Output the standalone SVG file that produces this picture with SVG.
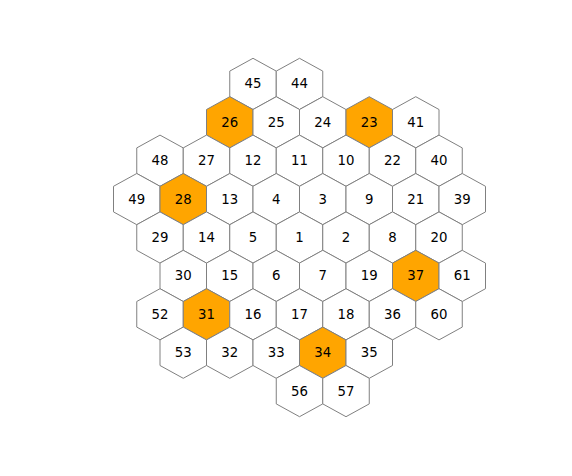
<svg xmlns="http://www.w3.org/2000/svg" xmlns:xlink="http://www.w3.org/1999/xlink" width="572" height="476" viewBox="0 0 572 476">
<style>
.h{fill:#ffffff;stroke:#808080;stroke-width:1}
.o .h{fill:#ffa500}
text{font-family:"DejaVu Sans",sans-serif;font-size:13.3px;fill:#000;text-anchor:middle;dominant-baseline:central}
</style>
<defs><polygon id="hex" points="0,-25.6 23.25,-12.8 23.25,12.8 0,25.6 -23.25,12.8 -23.25,-12.8"/></defs>
<rect width="572" height="476" fill="#fff"/>
<g id="n45" transform="translate(253,83.9)"><use href="#hex" class="h"/><text>45</text></g>
<g id="n44" transform="translate(299.5,83.9)"><use href="#hex" class="h"/><text>44</text></g>
<g id="n26" class="o" transform="translate(229.75,122.3)"><use href="#hex" class="h"/><text>26</text></g>
<g id="n25" transform="translate(276.25,122.3)"><use href="#hex" class="h"/><text>25</text></g>
<g id="n24" transform="translate(322.75,122.3)"><use href="#hex" class="h"/><text>24</text></g>
<g id="n23" class="o" transform="translate(369.25,122.3)"><use href="#hex" class="h"/><text>23</text></g>
<g id="n41" transform="translate(415.75,122.3)"><use href="#hex" class="h"/><text>41</text></g>
<g id="n48" transform="translate(160,160.7)"><use href="#hex" class="h"/><text>48</text></g>
<g id="n27" transform="translate(206.5,160.7)"><use href="#hex" class="h"/><text>27</text></g>
<g id="n12" transform="translate(253,160.7)"><use href="#hex" class="h"/><text>12</text></g>
<g id="n11" transform="translate(299.5,160.7)"><use href="#hex" class="h"/><text>11</text></g>
<g id="n10" transform="translate(346,160.7)"><use href="#hex" class="h"/><text>10</text></g>
<g id="n22" transform="translate(392.5,160.7)"><use href="#hex" class="h"/><text>22</text></g>
<g id="n40" transform="translate(439,160.7)"><use href="#hex" class="h"/><text>40</text></g>
<g id="n49" transform="translate(136.75,199.1)"><use href="#hex" class="h"/><text>49</text></g>
<g id="n28" class="o" transform="translate(183.25,199.1)"><use href="#hex" class="h"/><text>28</text></g>
<g id="n13" transform="translate(229.75,199.1)"><use href="#hex" class="h"/><text>13</text></g>
<g id="n4" transform="translate(276.25,199.1)"><use href="#hex" class="h"/><text>4</text></g>
<g id="n3" transform="translate(322.75,199.1)"><use href="#hex" class="h"/><text>3</text></g>
<g id="n9" transform="translate(369.25,199.1)"><use href="#hex" class="h"/><text>9</text></g>
<g id="n21" transform="translate(415.75,199.1)"><use href="#hex" class="h"/><text>21</text></g>
<g id="n39" transform="translate(462.25,199.1)"><use href="#hex" class="h"/><text>39</text></g>
<g id="n29" transform="translate(160,237.5)"><use href="#hex" class="h"/><text>29</text></g>
<g id="n14" transform="translate(206.5,237.5)"><use href="#hex" class="h"/><text>14</text></g>
<g id="n5" transform="translate(253,237.5)"><use href="#hex" class="h"/><text>5</text></g>
<g id="n1" transform="translate(299.5,237.5)"><use href="#hex" class="h"/><text>1</text></g>
<g id="n2" transform="translate(346,237.5)"><use href="#hex" class="h"/><text>2</text></g>
<g id="n8" transform="translate(392.5,237.5)"><use href="#hex" class="h"/><text>8</text></g>
<g id="n20" transform="translate(439,237.5)"><use href="#hex" class="h"/><text>20</text></g>
<g id="n30" transform="translate(183.25,275.9)"><use href="#hex" class="h"/><text>30</text></g>
<g id="n15" transform="translate(229.75,275.9)"><use href="#hex" class="h"/><text>15</text></g>
<g id="n6" transform="translate(276.25,275.9)"><use href="#hex" class="h"/><text>6</text></g>
<g id="n7" transform="translate(322.75,275.9)"><use href="#hex" class="h"/><text>7</text></g>
<g id="n19" transform="translate(369.25,275.9)"><use href="#hex" class="h"/><text>19</text></g>
<g id="n37" class="o" transform="translate(415.75,275.9)"><use href="#hex" class="h"/><text>37</text></g>
<g id="n61" transform="translate(462.25,275.9)"><use href="#hex" class="h"/><text>61</text></g>
<g id="n52" transform="translate(160,314.3)"><use href="#hex" class="h"/><text>52</text></g>
<g id="n31" class="o" transform="translate(206.5,314.3)"><use href="#hex" class="h"/><text>31</text></g>
<g id="n16" transform="translate(253,314.3)"><use href="#hex" class="h"/><text>16</text></g>
<g id="n17" transform="translate(299.5,314.3)"><use href="#hex" class="h"/><text>17</text></g>
<g id="n18" transform="translate(346,314.3)"><use href="#hex" class="h"/><text>18</text></g>
<g id="n36" transform="translate(392.5,314.3)"><use href="#hex" class="h"/><text>36</text></g>
<g id="n60" transform="translate(439,314.3)"><use href="#hex" class="h"/><text>60</text></g>
<g id="n53" transform="translate(183.25,352.7)"><use href="#hex" class="h"/><text>53</text></g>
<g id="n32" transform="translate(229.75,352.7)"><use href="#hex" class="h"/><text>32</text></g>
<g id="n33" transform="translate(276.25,352.7)"><use href="#hex" class="h"/><text>33</text></g>
<g id="n34" class="o" transform="translate(322.75,352.7)"><use href="#hex" class="h"/><text>34</text></g>
<g id="n35" transform="translate(369.25,352.7)"><use href="#hex" class="h"/><text>35</text></g>
<g id="n56" transform="translate(299.5,391.1)"><use href="#hex" class="h"/><text>56</text></g>
<g id="n57" transform="translate(346,391.1)"><use href="#hex" class="h"/><text>57</text></g>
</svg>
